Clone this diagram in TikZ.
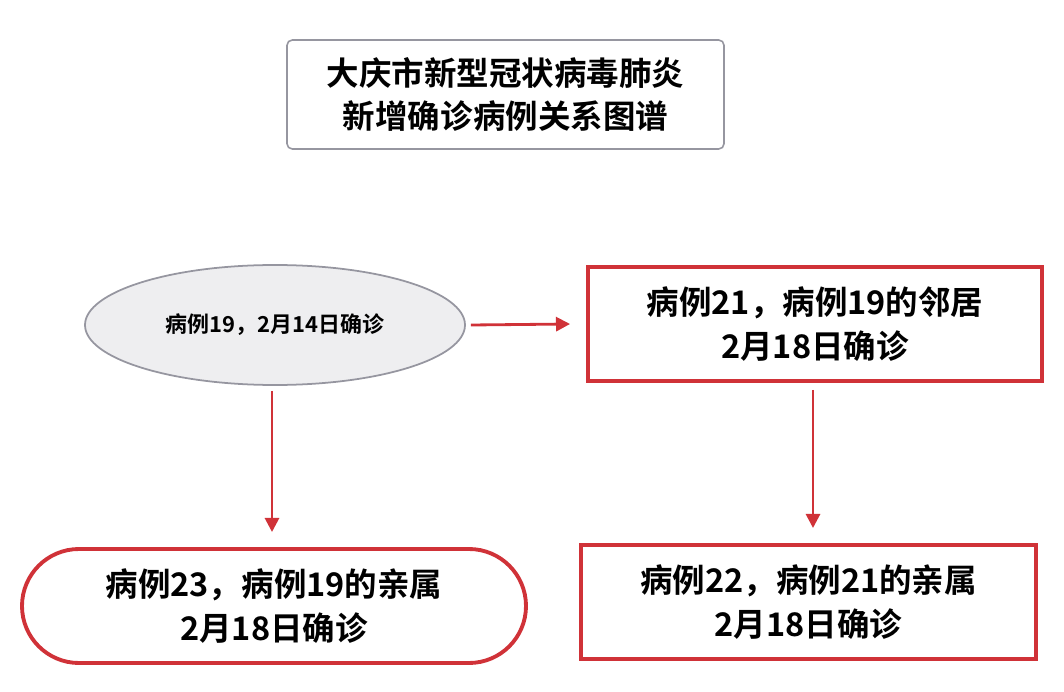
\documentclass[tikz,border=0pt]{standalone}
\usepackage{fontspec}
\newfontfamily\cjk[BoldFont={Noto Sans CJK SC Bold}]{Noto Sans CJK SC}
\usetikzlibrary{shapes.geometric,arrows.meta}
\definecolor{casered}{RGB}{208,50,56}
\definecolor{framegray}{RGB}{150,150,160}
\definecolor{ovalfill}{RGB}{238,238,240}
\tikzset{
  casebox/.style={draw=casered,line width=2.2pt,align=center,font=\cjk\bfseries\fontsize{18.5pt}{25pt}\selectfont},
  link/.style={draw=casered,line width=1.6pt,-{Triangle[length=8pt,width=8pt]}}
}
\begin{document}
\begin{tikzpicture}[x=0.02cm,y=-0.02cm]
  \useasboundingbox (0,0) rectangle (1064,692);
  % title
  \node [draw=framegray,rounded corners=3pt,line width=0.9pt,minimum width=437*0.02cm,minimum height=109*0.02cm,align=center,font=\cjk\bfseries\fontsize{18.5pt}{25pt}\selectfont] (title) at (505.5,94.5) {大庆市新型冠状病毒肺炎\\新增确诊病例关系图谱};
  % case 19
  \node [ellipse,draw=framegray,fill=ovalfill,line width=1pt,minimum width=380*0.02cm,minimum height=120*0.02cm,inner sep=0pt,font=\cjk\bfseries\fontsize{12.5pt}{15pt}\selectfont] (c19) at (275,325) {病例19，2月14日确诊};
  % case 21
  \node [casebox,minimum width=454*0.02cm,minimum height=114*0.02cm] (c21) at (815,324) {病例21，病例19的邻居\\2月18日确诊};
  % case 23
  \node [casebox,rounded corners=57*0.02cm,minimum width=504*0.02cm,minimum height=114*0.02cm] (c23) at (274,606) {病例23，病例19的亲属\\2月18日确诊};
  % case 22
  \node [casebox,minimum width=455*0.02cm,minimum height=114*0.02cm] (c22) at (808.5,602) {病例22，病例21的亲属\\2月18日确诊};
  % arrows
  \draw [link] ([xshift=5*0.02cm]c19.east) -- ([xshift=-16*0.02cm]c21.west);
  \draw [link] ([yshift=-5*0.02cm]c19.south -| 272,0) -- (272,532);
  \draw [link] ([yshift=-7*0.02cm]c21.south -| 813,0) -- (813,528);
\end{tikzpicture}
\end{document}
